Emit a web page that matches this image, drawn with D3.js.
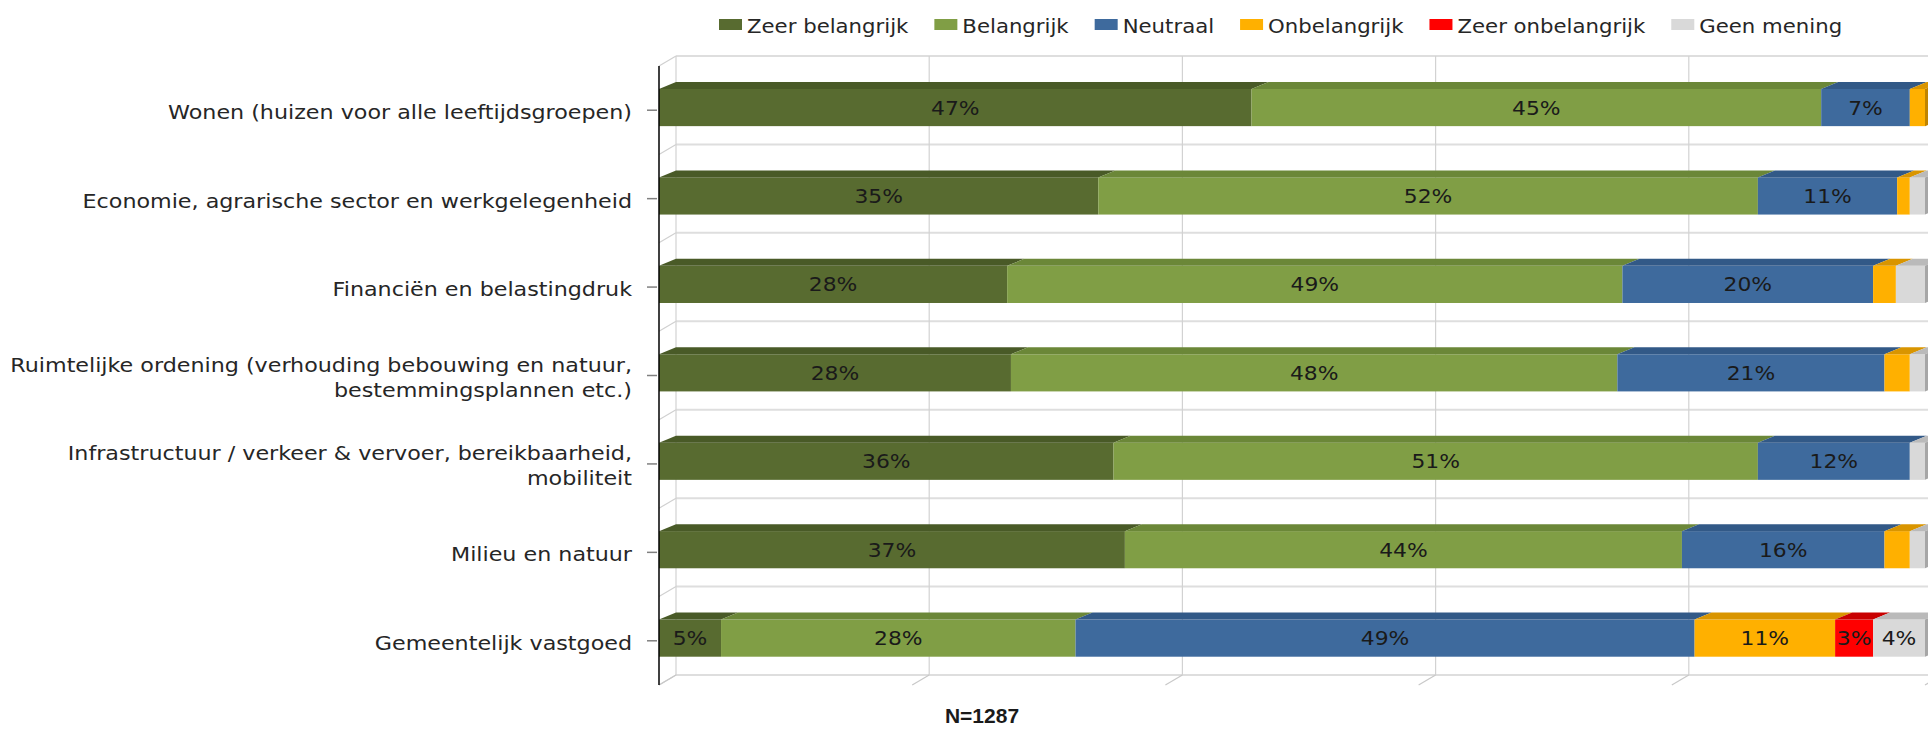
<!DOCTYPE html>
<html>
<head>
<meta charset="utf-8">
<script src="https://cdn.jsdelivr.net/npm/d3@7"></script>
<style>
    html, body { margin: 0; padding: 0; background: #ffffff; }
    svg { display: block; }
</style>
</head>
<body>
<div id="chart"></div>
<script>
// categories, top to bottom ("\n" = line break in the axis label)
const categories = [
    "Wonen (huizen voor alle leeftijdsgroepen)",
    "Economie, agrarische sector en werkgelegenheid",
    "Financiën en belastingdruk",
    "Ruimtelijke ordening (verhouding bebouwing en natuur,\nbestemmingsplannen etc.)",
    "Infrastructuur / verkeer & vervoer, bereikbaarheid,\nmobiliteit",
    "Milieu en natuur",
    "Gemeentelijk vastgoed"
];

const seriesNames = ["Zeer belangrijk", "Belangrijk", "Neutraal", "Onbelangrijk", "Zeer onbelangrijk", "Geen mening"];

// percentages per series, same order as categories
const zeerBelangrijk   = [46.8, 34.7, 27.5, 27.8, 35.9, 36.8, 4.9];
const belangrijk       = [45.0, 52.1, 48.6, 47.9, 50.9, 44.0, 28.0];
const neutraal         = [7.0, 11.0, 19.8, 21.1, 12.0, 16.0, 48.9];
const onbelangrijk     = [1.2, 1.0, 1.8, 2.0, 0, 2.0, 11.1];
const zeerOnbelangrijk = [0, 0, 0, 0, 0, 0, 3.0];
const geenMening       = [0, 1.2, 2.3, 1.2, 1.2, 1.2, 4.1];

const sampleSize = "N=1287";

const seriesValues = [zeerBelangrijk, belangrijk, neutraal, onbelangrijk, zeerOnbelangrijk, geenMening];
const frontColors = ["#586B30", "#809E45", "#3E6A9D", "#FFB000", "#FF0000", "#D9D9D9"];
const topColors   = ["#495A27", "#6B8738", "#325987", "#D99500", "#C80000", "#BABABA"];
const sideColors  = ["#3F4E21", "#5E7731", "#2B4D75", "#C08400", "#B00000", "#A6A6A6"];

const width = 1928, height = 729;
const FONT = "'DejaVu Sans', Verdana, sans-serif";
const FS = 19.5;
const STRETCH = 1.12;       // the reference text is a little wider than it is tall
const LABEL_STRETCH = 1.14;
const LEGEND_STRETCH = 1.09;
const WALL_DX = 17, WALL_DY = 10;
const BAR_DX = 17, BAR_DY = 7;

const rows = categories.map((c, i) => {
    const r = { category: c };
    seriesNames.forEach((s, k) => { r[s] = seriesValues[k][i]; });
    return r;
});

const svg = d3.select("#chart").append("svg")
    .attr("width", width)
    .attr("height", height);

const x = d3.scaleLinear().domain([0, 100]).range([659, 1925]);
const y = d3.scaleBand().domain(categories).range([66, 685]);
const bw = y.bandwidth();
const barTop = bw * 0.26, barH = bw * 0.42;

// ---- walls and gridlines (back wall sits up-right of the front plane)
const grid = svg.append("g");
const bounds = categories.map(c => y(c)).concat([y.range()[1]]);
const ticks = x.ticks(5);

grid.selectAll(".hline").data(bounds).enter().append("line")
    .attr("x1", x(0) + WALL_DX).attr("x2", width + 20)
    .attr("y1", d => d - WALL_DY).attr("y2", d => d - WALL_DY)
    .attr("stroke", "#dedede").attr("stroke-width", 2);

grid.selectAll(".sidewall").data(bounds).enter().append("line")
    .attr("x1", x(0)).attr("y1", d => d)
    .attr("x2", x(0) + WALL_DX).attr("y2", d => d - WALL_DY)
    .attr("stroke", "#d0d0d0").attr("stroke-width", 1.2);

grid.selectAll(".vline").data(ticks).enter().append("line")
    .attr("x1", d => x(d) + WALL_DX).attr("x2", d => x(d) + WALL_DX)
    .attr("y1", y.range()[0] - WALL_DY).attr("y2", y.range()[1] - WALL_DY)
    .attr("stroke", "#d2d2d2").attr("stroke-width", 1.2);

grid.selectAll(".floor").data(ticks).enter().append("line")
    .attr("x1", d => x(d) + WALL_DX).attr("y1", y.range()[1] - WALL_DY)
    .attr("x2", d => x(d)).attr("y2", y.range()[1])
    .attr("stroke", "#c8c8c8").attr("stroke-width", 1.2);

// ---- stacked 3D bars
const stacked = d3.stack().keys(seriesNames)(rows);
const bars = svg.append("g");

stacked.forEach((layer, k) => {
    const g = bars.append("g").attr("class", "series-" + k);
    const segs = layer.filter(d => d[1] - d[0] > 0);

    g.selectAll(".front").data(segs).enter().append("rect")
        .attr("x", d => x(d[0]))
        .attr("y", d => y(d.data.category) + barTop)
        .attr("width", d => x(d[1]) - x(d[0]))
        .attr("height", barH)
        .attr("fill", frontColors[k]);

    g.selectAll(".top").data(segs).enter().append("polygon")
        .attr("points", d => {
            const x0 = x(d[0]), x1 = x(d[1]), yt = y(d.data.category) + barTop;
            return [[x0, yt], [x1, yt], [x1 + BAR_DX, yt - BAR_DY], [x0 + BAR_DX, yt - BAR_DY]].join(" ");
        })
        .attr("fill", topColors[k]);
});

// right side face of the last visible segment per row
rows.forEach(r => {
    let last = -1;
    seriesNames.forEach((s, k) => { if (r[s] > 0) last = k; });
    const total = d3.sum(seriesNames, s => r[s]);
    const xe = x(total), yt = y(r.category) + barTop;
    bars.append("polygon")
        .attr("points", [[xe, yt], [xe + BAR_DX, yt - BAR_DY], [xe + BAR_DX, yt + barH - BAR_DY], [xe, yt + barH]].join(" "))
        .attr("fill", sideColors[last]);
});

// value labels, only when the rounded share is 3% or more
const labels = svg.append("g");
stacked.forEach(layer => {
    labels.selectAll(null).data(layer.filter(d => Math.round(d[1] - d[0]) >= 3)).enter().append("text")
        .attr("transform", d => `translate(${(x(d[0]) + x(d[1])) / 2},${y(d.data.category) + barTop + barH / 2 + FS * 0.36}) scale(${STRETCH},1)`)
        .attr("text-anchor", "middle")
        .attr("font-family", FONT)
        .attr("font-size", FS)
        .attr("fill", "#1a1a1a")
        .text(d => Math.round(d[1] - d[0]) + "%");
});

// ---- category axis
const axis = svg.append("g");
axis.append("line")
    .attr("x1", x(0)).attr("x2", x(0))
    .attr("y1", y.range()[0]).attr("y2", y.range()[1])
    .attr("stroke", "#000").attr("stroke-width", 1.5);

axis.selectAll(".tick").data(categories).enter().append("line")
    .attr("x1", x(0) - 12).attr("x2", x(0) - 2)
    .attr("y1", d => y(d) + bw / 2).attr("y2", d => y(d) + bw / 2)
    .attr("stroke", "#808080").attr("stroke-width", 1.5);

const lineGap = 25;
categories.forEach(c => {
    const lines = c.split("\n");
    const mid = y(c) + bw / 2 + 2;
    lines.forEach((ln, j) => {
        const cy = mid + (j - (lines.length - 1) / 2) * lineGap;
        axis.append("text")
            .attr("transform", `translate(632,${cy + FS * 0.36}) scale(${LABEL_STRETCH},1)`)
            .attr("text-anchor", "end")
            .attr("font-family", FONT)
            .attr("font-size", FS)
            .attr("fill", "#262626")
            .text(ln);
    });
});

// ---- legend, laid out left to right from measured text widths
const legend = svg.append("g");
let lx = 719;
seriesNames.forEach((s, k) => {
    legend.append("rect")
        .attr("x", lx).attr("y", 19)
        .attr("width", 23).attr("height", 11)
        .attr("fill", frontColors[k]);
    const t = legend.append("text")
        .attr("transform", `translate(${lx + 28},33) scale(${LEGEND_STRETCH},1)`)
        .attr("font-family", FONT)
        .attr("font-size", FS)
        .attr("fill", "#262626")
        .text(s);
    lx += 28 + t.node().getComputedTextLength() * LEGEND_STRETCH + 26;
});

// ---- footnote
svg.append("text")
    .attr("x", 982).attr("y", 723)
    .attr("text-anchor", "middle")
    .attr("font-family", "'Liberation Sans', Arial, sans-serif")
    .attr("font-weight", "bold")
    .attr("font-size", 21)
    .attr("fill", "#1a1a1a")
    .text(sampleSize);
</script>
</body>
</html>
